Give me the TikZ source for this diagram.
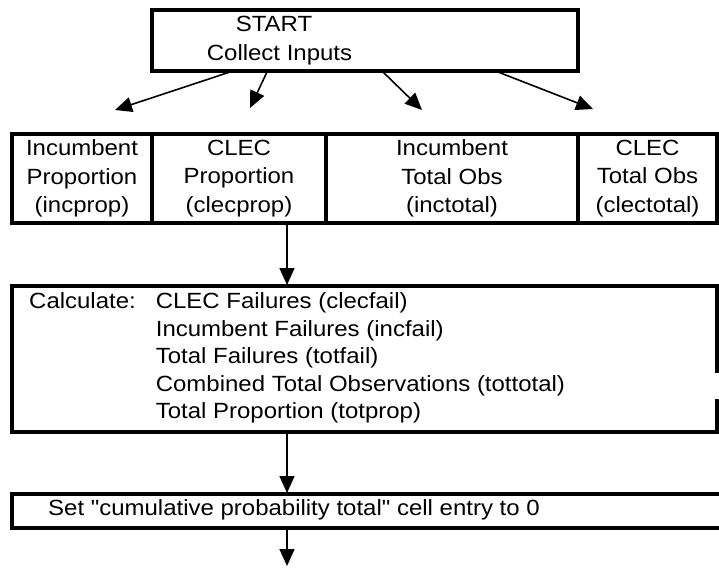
\documentclass[tikz,border=0pt]{standalone}
\usepackage{fontspec}
\setmainfont{Liberation Sans}[FakeStretch=1.09, Ligatures=TeXOff]
\usetikzlibrary{arrows.meta}
\begin{document}
\begin{tikzpicture}[x=1pt,y=-1pt,
  box/.style={draw, line width=3.6pt, inner sep=0pt, outer sep=0pt},
  txt/.style={font=\fontsize{22}{28.5}\selectfont, inner sep=0pt, align=center},
  arr/.style={line width=1.6pt, -{Triangle[length=17pt,width=15pt]}}]
\useasboundingbox (0,0) rectangle (719,569);
% start box
\node[box, minimum width=426pt, minimum height=61pt] (start) at (365,40.5) {};
\node[txt] (t1) at (274,24) {START};
\node[txt] (t2) at (279.5,55) {Collect Inputs};
% input cells
\node[box, txt, minimum width=140pt, minimum height=89pt] (c1) at (82,178.5) {Incumbent\\Proportion\\(incprop)};
\node[box, txt, minimum width=174pt, minimum height=89pt] (c2) at (239,178.5) {CLEC\\Proportion\\(clecprop)};
\node[box, txt, minimum width=252pt, minimum height=89pt] (c3) at (452,178.5) {Incumbent\\Total Obs\\(inctotal)};
\node[box, txt, minimum width=139pt, minimum height=89pt] (c4) at (647.5,178.5) {CLEC\\Total Obs\\(clectotal)};
% calculate box
\node[box, minimum width=705pt, minimum height=146pt] (calc) at (364.5,359) {};
\draw[white, line width=5pt] (717,373) -- (717,399);
\node[txt, anchor=west, align=left, font=\fontsize{22}{27.5}\selectfont] (calctxt) at (29,358) {%
\begin{tabular}{@{}l@{\hspace{20pt}}l@{}}
Calculate: & CLEC Failures (clecfail)\\
 & Incumbent Failures (incfail)\\
 & Total Failures (totfail)\\
 & Combined Total Observations (tottotal)\\
 & Total Proportion (totprop)
\end{tabular}};
% set box
\node[box, minimum width=713pt, minimum height=34pt] (set) at (368.5,511) {};
\node[txt, anchor=west] (settxt) at (48,510) {Set "cumulative probability total" cell entry to 0};
% connector end points
\coordinate (a1s) at (230,72); \coordinate (a1e) at (115,110);
\coordinate (a2s) at (267,72); \coordinate (a2e) at (250,108);
\coordinate (a3s) at (383,72); \coordinate (a3e) at (422,110);
\coordinate (a4s) at (498,72); \coordinate (a4e) at (593,109);
\coordinate (v1s) at (287,224); \coordinate (v1e) at (287,285);
\coordinate (v2s) at (287,433); \coordinate (v2e) at (287,493);
\coordinate (v3s) at (287,529); \coordinate (v3e) at (287,566);
\draw[arr] (a1s) -- (a1e);
\draw[arr] (a2s) -- (a2e);
\draw[arr] (a3s) -- (a3e);
\draw[arr] (a4s) -- (a4e);
\draw[arr] (v1s) -- (v1e);
\draw[arr] (v2s) -- (v2e);
\draw[arr] (v3s) -- (v3e);
\end{tikzpicture}
\end{document}
